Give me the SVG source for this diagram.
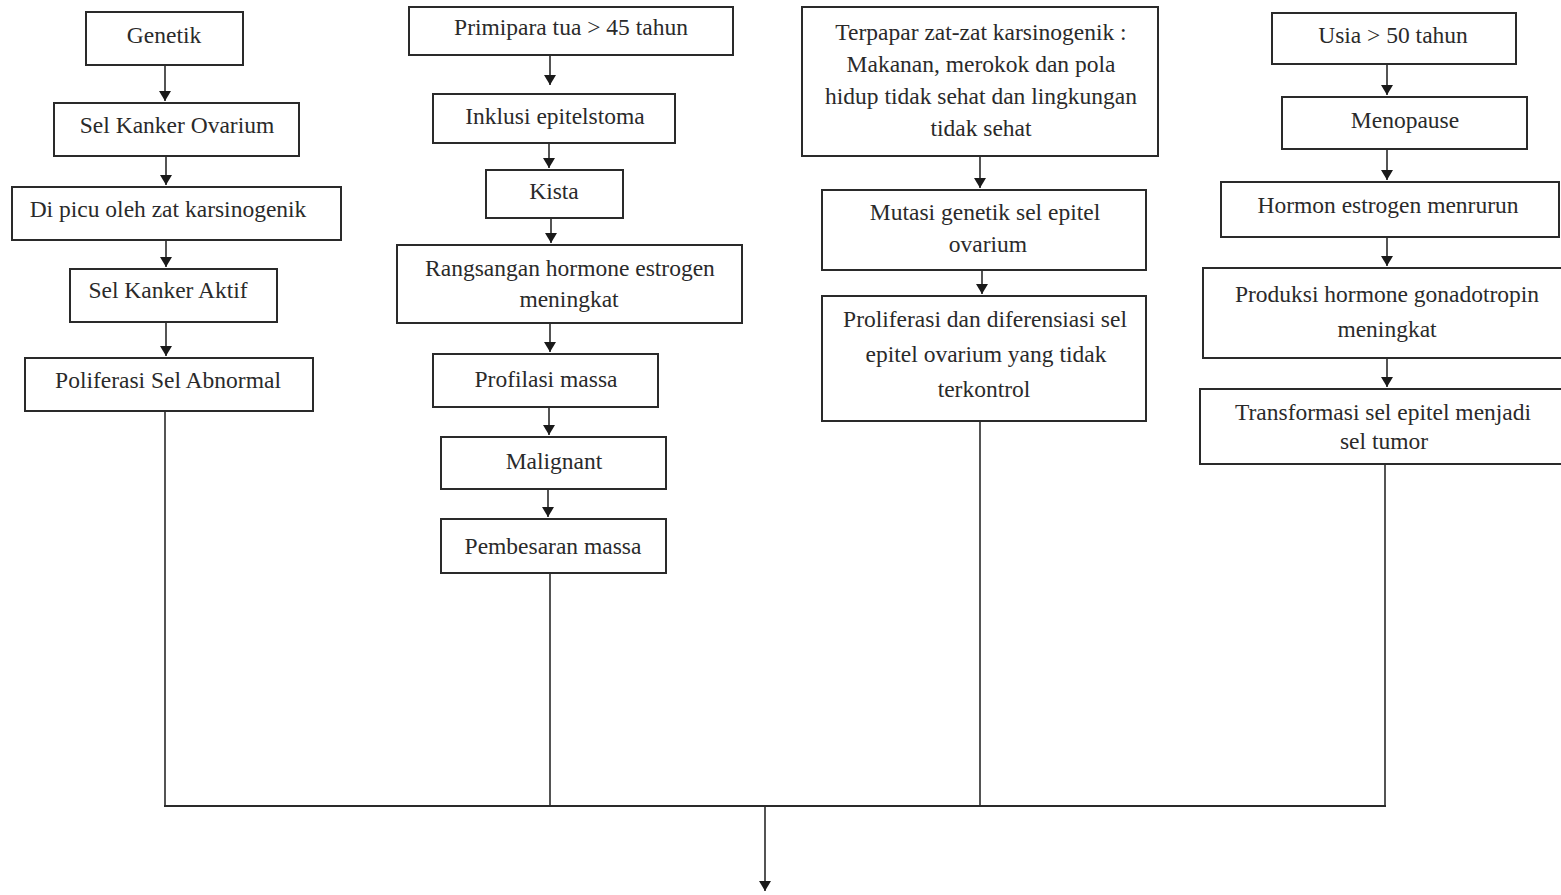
<svg xmlns="http://www.w3.org/2000/svg" width="1561" height="895" viewBox="0 0 1561 895">
<style>
.box{fill:#fff;stroke:#2a2a2a;stroke-width:2}
.t{font-family:"Liberation Serif","Times New Roman",serif;font-size:23.5px;fill:#2a2a2a;text-anchor:middle}
.c{fill:none;stroke:#2a2a2a;stroke-width:1.6}
</style>
<defs>
<marker id="ah" viewBox="0 0 10 12" refX="10" refY="6" markerWidth="10" markerHeight="12" markerUnits="userSpaceOnUse" orient="auto">
<path d="M0,0 L10,6 L0,12 Z" fill="#1a1a1a"/>
</marker>
</defs>
<rect width="1561" height="895" fill="#fff"/>

<g id="connectors">
<line class="c" x1="165" y1="65" x2="165" y2="101" marker-end="url(#ah)"/>
<line class="c" x1="166" y1="156" x2="166" y2="185" marker-end="url(#ah)"/>
<line class="c" x1="166" y1="240" x2="166" y2="267" marker-end="url(#ah)"/>
<line class="c" x1="166" y1="322" x2="166" y2="356" marker-end="url(#ah)"/>
<line class="c" x1="550" y1="55" x2="550" y2="85" marker-end="url(#ah)"/>
<line class="c" x1="549" y1="143" x2="549" y2="168" marker-end="url(#ah)"/>
<line class="c" x1="551" y1="218" x2="551" y2="243" marker-end="url(#ah)"/>
<line class="c" x1="550" y1="323" x2="550" y2="352" marker-end="url(#ah)"/>
<line class="c" x1="549" y1="407" x2="549" y2="435" marker-end="url(#ah)"/>
<line class="c" x1="548" y1="489" x2="548" y2="517" marker-end="url(#ah)"/>
<line class="c" x1="980" y1="156" x2="980" y2="188" marker-end="url(#ah)"/>
<line class="c" x1="982" y1="270" x2="982" y2="294" marker-end="url(#ah)"/>
<line class="c" x1="1387" y1="64" x2="1387" y2="95" marker-end="url(#ah)"/>
<line class="c" x1="1387" y1="149" x2="1387" y2="180" marker-end="url(#ah)"/>
<line class="c" x1="1387" y1="237" x2="1387" y2="266" marker-end="url(#ah)"/>
<line class="c" x1="1387" y1="358" x2="1387" y2="387" marker-end="url(#ah)"/>
<line class="c" x1="165" y1="411" x2="165" y2="806"/>
<line class="c" x1="550" y1="573" x2="550" y2="806"/>
<line class="c" x1="980" y1="421" x2="980" y2="806"/>
<line class="c" x1="1385" y1="464" x2="1385" y2="806"/>
<line class="c" x1="164" y1="806" x2="1386" y2="806" style="stroke-width:2.2"/>
<line class="c" x1="765" y1="806" x2="765" y2="891" marker-end="url(#ah)"/>
</g>

<g id="n-genetik"><rect class="box" x="86" y="12" width="157" height="53"/><text class="t" x="164" y="43">Genetik</text></g>
<g id="n-sko"><rect class="box" x="54" y="103" width="245" height="53"/><text class="t" x="177" y="133">Sel Kanker Ovarium</text></g>
<g id="n-dipicu"><rect class="box" x="12" y="187" width="329" height="53"/><text class="t" x="168" y="217">Di picu oleh zat karsinogenik</text></g>
<g id="n-aktif"><rect class="box" x="70" y="269" width="207" height="53"/><text class="t" x="168" y="298">Sel Kanker Aktif</text></g>
<g id="n-poliferasi"><rect class="box" x="25" y="358" width="288" height="53"/><text class="t" x="168" y="388">Poliferasi Sel Abnormal</text></g>

<g id="n-primipara"><rect class="box" x="409" y="7" width="324" height="48"/><text class="t" x="571" y="35">Primipara tua &gt; 45 tahun</text></g>
<g id="n-inklusi"><rect class="box" x="433" y="94" width="242" height="49"/><text class="t" x="555" y="124">Inklusi epitelstoma</text></g>
<g id="n-kista"><rect class="box" x="486" y="170" width="137" height="48"/><text class="t" x="554" y="199">Kista</text></g>
<g id="n-rangsangan"><rect class="box" x="397" y="245" width="345" height="78"/><text class="t" x="570" y="276">Rangsangan hormone estrogen</text><text class="t" x="569" y="307">meningkat</text></g>
<g id="n-profilasi"><rect class="box" x="433" y="354" width="225" height="53"/><text class="t" x="546" y="387">Profilasi massa</text></g>
<g id="n-malignant"><rect class="box" x="441" y="437" width="225" height="52"/><text class="t" x="554" y="469">Malignant</text></g>
<g id="n-pembesaran"><rect class="box" x="441" y="519" width="225" height="54"/><text class="t" x="553" y="554">Pembesaran massa</text></g>

<g id="n-terpapar"><rect class="box" x="802" y="7" width="356" height="149"/>
<text class="t" x="981" y="40">Terpapar zat-zat karsinogenik :</text>
<text class="t" x="981" y="72">Makanan, merokok dan pola</text>
<text class="t" x="981" y="104">hidup tidak sehat dan lingkungan</text>
<text class="t" x="981" y="136">tidak sehat</text></g>
<g id="n-mutasi"><rect class="box" x="822" y="190" width="324" height="80"/><text class="t" x="985" y="220">Mutasi genetik sel epitel</text><text class="t" x="988" y="252">ovarium</text></g>
<g id="n-proliferasi"><rect class="box" x="822" y="296" width="324" height="125"/>
<text class="t" x="985" y="327">Proliferasi dan diferensiasi sel</text>
<text class="t" x="986" y="362">epitel ovarium yang tidak</text>
<text class="t" x="984" y="397">terkontrol</text></g>

<g id="n-usia"><rect class="box" x="1272" y="13" width="244" height="51"/><text class="t" x="1393" y="43">Usia &gt; 50 tahun</text></g>
<g id="n-menopause"><rect class="box" x="1282" y="97" width="245" height="52"/><text class="t" x="1405" y="128">Menopause</text></g>
<g id="n-hormon"><rect class="box" x="1221" y="182" width="338" height="55"/><text class="t" x="1388" y="213">Hormon estrogen menrurun</text></g>
<g id="n-produksi"><rect class="box" x="1203" y="268" width="362" height="90"/><text class="t" x="1387" y="302">Produksi hormone gonadotropin</text><text class="t" x="1387" y="337">meningkat</text></g>
<g id="n-transformasi"><rect class="box" x="1200" y="389" width="365" height="75"/><text class="t" x="1383" y="420">Transformasi sel epitel menjadi</text><text class="t" x="1384" y="449">sel tumor</text></g>
</svg>
